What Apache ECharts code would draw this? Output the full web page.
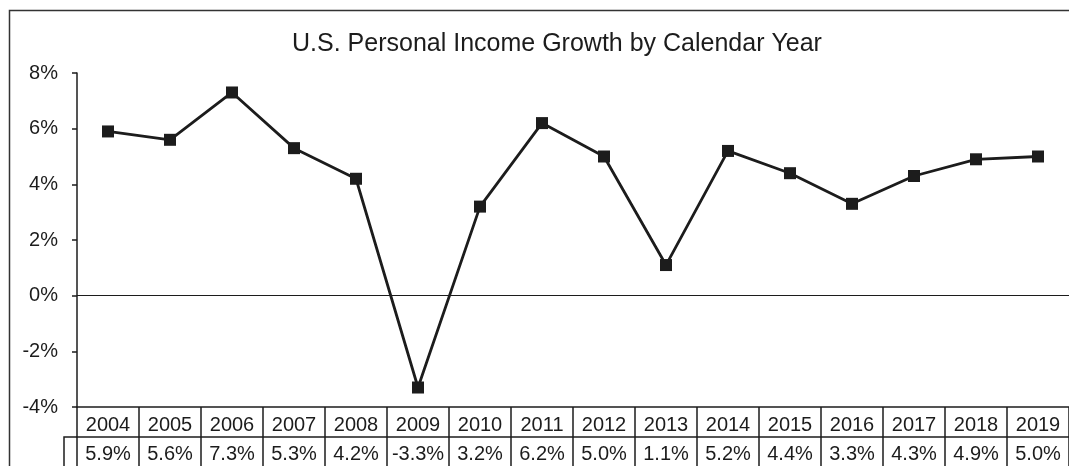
<!DOCTYPE html>
<html><head><meta charset="utf-8">
<script src="https://cdn.jsdelivr.net/npm/echarts@6/dist/echarts.min.js"></script>
<style>html,body{margin:0;padding:0;background:#fff}#c{width:1069px;height:466px}</style>
</head><body><div id="c"></div>
<script>
const years = ['2004','2005','2006','2007','2008','2009','2010','2011','2012','2013','2014','2015','2016','2017','2018','2019'];
const growth = [5.9,5.6,7.3,5.3,4.2,-3.3,3.2,6.2,5.0,1.1,5.2,4.4,3.3,4.3,4.9,5.0];
const yTicks = {min:-4, max:8, interval:2};
const titleText = 'U.S. Personal Income Growth by Calendar Year';

const INK = '#1c1c1c';
const FONT = 'Liberation Sans, Arial, sans-serif';
const chart = echarts.init(document.getElementById('c'));
chart.setOption({
  animation:false,
  title:{text:titleText, left:552, textAlign:'center', top:27, textStyle:{fontFamily:FONT, fontSize:25, fontWeight:'normal', color:INK}},
  grid:{left:77, top:73, bottom:59, width:995},
  xAxis:[
    {type:'category', data:years, position:'bottom', boundaryGap:true,
     axisLine:{onZero:false, lineStyle:{color:INK, width:1.5}},
     axisTick:{show:true, interval:0, length:30, lineStyle:{color:INK, width:1.5}},
     axisLabel:{interval:0, margin:8, fontFamily:FONT, fontSize:20, color:INK}},
    {type:'category', data:growth.map(v=>v.toFixed(1)+'%'), position:'bottom', offset:30, boundaryGap:true,
     axisLine:{onZero:false, lineStyle:{color:INK, width:1.5}},
     axisTick:{show:true, interval:0, length:29, lineStyle:{color:INK, width:1.5}},
     axisLabel:{interval:0, margin:7, fontFamily:FONT, fontSize:20, color:INK}}
  ],
  yAxis:{type:'value', min:yTicks.min, max:yTicks.max, interval:yTicks.interval,
    axisLine:{show:true, lineStyle:{color:INK, width:1.5}},
    axisTick:{show:true, length:5, lineStyle:{color:INK, width:1.5}},
    splitLine:{show:false},
    axisLabel:{margin:19, fontFamily:FONT, fontSize:20, color:INK, formatter:v=>v+'%'}},
  series:[{type:'line', data:growth, xAxisIndex:0,
    symbol:'rect', symbolSize:12, lineStyle:{color:INK, width:2.8}, itemStyle:{color:INK},
    markLine:{silent:true, symbol:'none', label:{show:false}, lineStyle:{color:INK, width:1.2, type:'solid'}, data:[{yAxis:0}]}}],
  graphic:[
    {type:'rect', left:7, top:8, shape:{width:1100, height:500}, style:{fill:'none', stroke:'#333', lineWidth:1.5}, silent:true},
    {type:'polyline', shape:{points:[[64,466],[64,437],[77,437]]}, style:{stroke:INK, lineWidth:1.5, fill:'none'}, silent:true}
  ]
});
</script></body></html>
